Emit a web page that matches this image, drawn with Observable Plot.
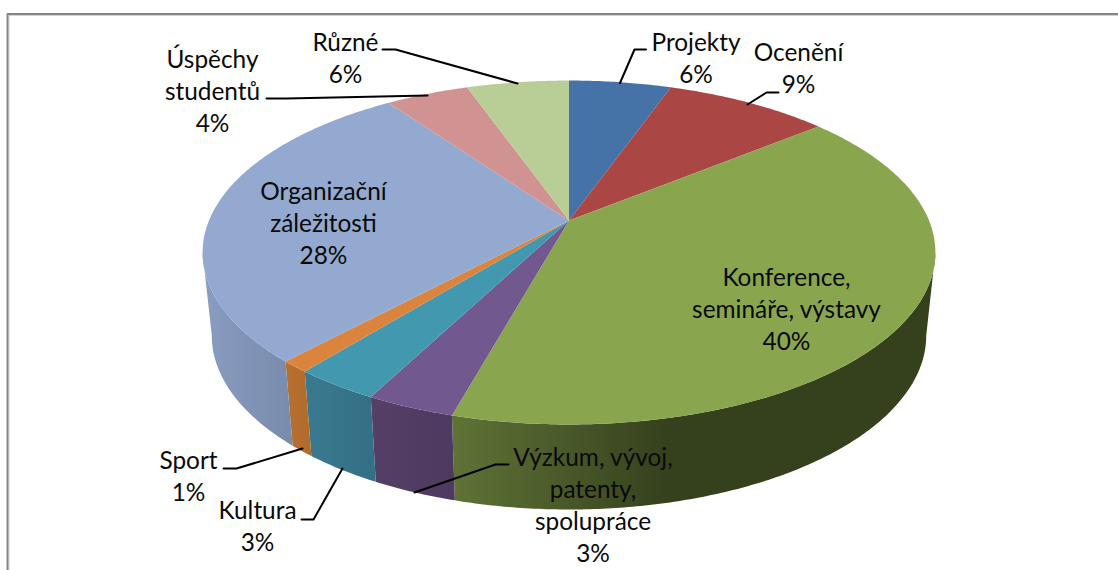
<!DOCTYPE html>
<html><head><meta charset="utf-8">
<script src="https://cdn.jsdelivr.net/npm/d3@7"></script>
<script src="https://cdn.jsdelivr.net/npm/@observablehq/plot@0.6"></script>
<style>html,body{margin:0;padding:0;background:#fff}svg{display:block}</style>
</head><body><div id="c"></div>
<script>
const categories = ["Projekty","Ocenění","Konference, semináře, výstavy","Výzkum, vývoj, patenty, spolupráce","Kultura","Sport","Organizační záležitosti","Úspěchy studentů","Různé"];
const shares = [5.4,8.7,40.2,3.3,3.2,1.1,28.3,4.4,5.4];
const percentLabels = ["6%","9%","40%","3%","3%","1%","28%","4%","6%"];
const labelLines = ["Projekty","Ocenění","Konference,\nsemináře, výstavy","Výzkum, vývoj,\npatenty,\nspolupráce","Kultura","Sport","Organizační\nzáležitosti","Úspěchy\nstudentů","Různé"];
const topColors = ["#4572A7","#AA4643","#89A54E","#71588F","#4198AF","#DB843D","#93A9CF","#D19392","#B9CD96"];
const wallStops = [["#3a5f8b","#3a5f8b"],["#8c3a38","#8c3a38"],["#5f7336","#35401d"],["#553f66","#4d3a60"],["#3a7a90","#336f85"],["#b87030","#b06b2c"],["#8a9dc2","#778bac"],["#d19392","#d19392"],["#b9cd96","#b9cd96"]];

// layout
const W=1118,H=570,fs=24.4,lh=32;
const cx=568.5, cy=220, A=360, B=166, k=0.186;
const cyLow=302.6, ALow=351, BLow=168;
const labelPos=[[695.5,40],[798,50],[786,275],[592.5,455],[257,508],[188,458],[323,189],[212,57],[345,40]];
const leaders=[
 [[645.5,49],[634,49],[619.5,82.5]],
 [[778,92],[766,92],[747,104]],
 [[508,464],[495,464],[414,492]],
 [[301,519],[313,519],[342,468]],
 [[223,468],[236,468],[302,448]],
 [[266,98],[286,98],[427,95]],
 [[382,49],[395,49],[517,83]]
].map((pts,i)=>pts.map(([x,y])=>({x,y,i})));

const total=d3.sum(shares);
const cum=d3.cumsum(shares);
const bounds=shares.map((s,i)=>[(i?cum[i-1]:0)/total*2*Math.PI,cum[i]/total*2*Math.PI]);
const proj=(phi,low)=>{const c=Math.sin(phi),s=-Math.cos(phi),d=1-k*s;
  return low?{x:cx+ALow*c/d,y:cyLow+BLow*s/d}:{x:cx+A*c/d,y:cy+B*s/d};};
const arc=(a,b,low)=>{const n=Math.max(2,Math.ceil((b-a)/0.01));return d3.range(n+1).map(j=>proj(a+(b-a)*j/n,low));};
const slicePts=bounds.map(([a,b])=>[{x:cx,y:cy},...arc(a,b,false)]);
// visible wall: the front of the rim, between the two silhouette angles
const silh=Math.acos(-k), frontA=silh, frontB=2*Math.PI-silh;
const wallPts=bounds.map(([a,b])=>{const a2=Math.max(a,frontA),b2=Math.min(b,frontB);
  return a2<b2?[...arc(a2,b2,false),...arc(a2,b2,true).reverse()]:null;});

const marks=[];
wallPts.forEach((p,i)=>{if(p)marks.push(Plot.line(p,{x:"x",y:"y",fill:`url(#wall${i})`,stroke:"none",curve:"linear"}));});
slicePts.forEach((p,i)=>marks.push(Plot.line(p,{x:"x",y:"y",fill:topColors[i],stroke:"none",curve:"linear"})));
marks.push(Plot.line([{x:8.5,y:570},{x:8.5,y:15},{x:1118,y:15}],{x:"x",y:"y",stroke:"#d4d4d4",strokeWidth:1}));
marks.push(Plot.line([{x:7,y:570},{x:7,y:13.5},{x:1118,y:13.5}],{x:"x",y:"y",stroke:"#868686",strokeWidth:2}));
leaders.forEach(l=>marks.push(Plot.line(l,{x:"x",y:"y",stroke:"#000",strokeWidth:2,curve:"linear"})));
const labelRows=categories.map((c,i)=>{const t=labelLines[i]+"\n"+percentLabels[i];const n=t.split("\n").length;
  return {t,x:labelPos[i][0],y:labelPos[i][1]+(n-1)*lh/2};});
marks.push(Plot.text(labelRows,{x:"x",y:"y",text:"t",lineAnchor:"middle",lineHeight:lh/fs,fontSize:fs,fill:"#0a0a0a",fontFamily:"Lato",textAnchor:"middle"}));

const svg=Plot.plot({width:W,height:H,margin:0,
  x:{domain:[0,W],range:[0,W],axis:null},y:{domain:[0,H],range:[0,H],axis:null},marks,
  style:{background:"#fff"}});
const defs=d3.select(svg).append("defs");
wallStops.forEach((st,i)=>{const g=defs.append("linearGradient").attr("id","wall"+i);
  g.append("stop").attr("offset","0%").attr("stop-color",st[0]);
  g.append("stop").attr("offset",i===2?"45%":"100%").attr("stop-color",st[1]);});
document.getElementById("c").append(svg);
</script></body></html>
